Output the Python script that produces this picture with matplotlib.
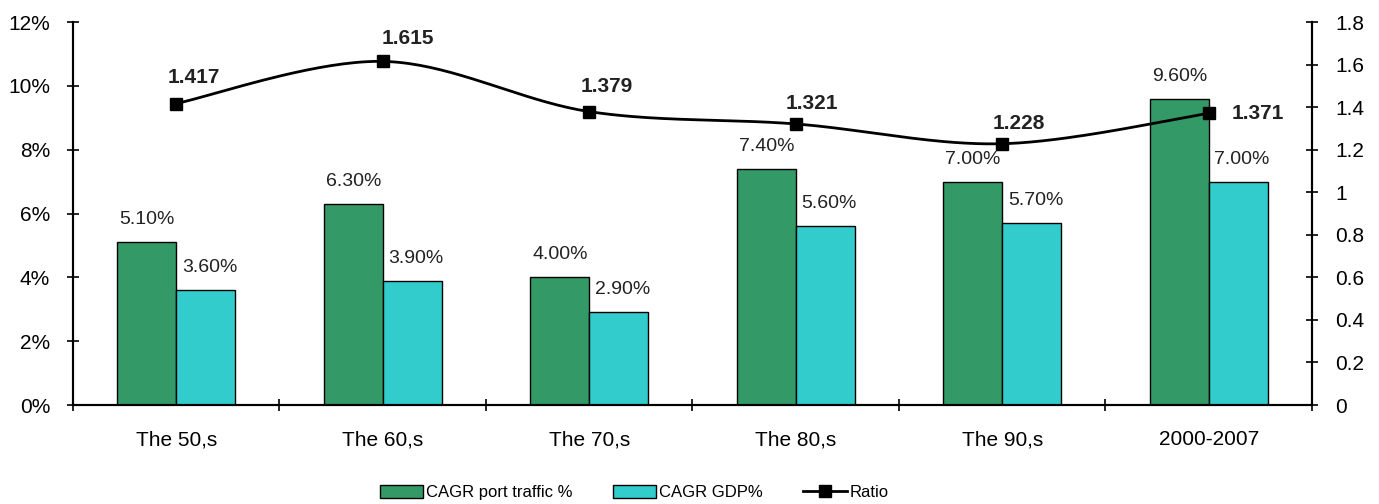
import numpy as np
import matplotlib
matplotlib.use("Agg")
import matplotlib.pyplot as plt
from matplotlib.lines import Line2D
from matplotlib.patches import Patch

plt.rcParams['font.family'] = ['Liberation Sans', 'DejaVu Sans']

categories = ["The 50,s", "The 60,s", "The 70,s", "The 80,s", "The 90,s", "2000-2007"]
port_traffic = [5.10, 6.30, 4.00, 7.40, 7.00, 9.60]
gdp = [3.60, 3.90, 2.90, 5.60, 5.70, 7.00]
ratio = [1.417, 1.615, 1.379, 1.321, 1.228, 1.371]
ratio_label_offsets = [(18, 26), (25, 23), (18, 25), (16, 20), (17, 20), (49, 0)]

GREEN = "#339966"
CYAN = "#33CCCC"

def smooth(xs, ys, n=40):
    # Excel-like smoothed line (Bezier with 1/6 tangents)
    xs = np.asarray(xs, float); ys = np.asarray(ys, float)
    px = np.concatenate([[xs[0]], xs, [xs[-1]]])
    py = np.concatenate([[ys[0]], ys, [ys[-1]]])
    outx, outy = [], []
    t = np.linspace(0, 1, n)
    for i in range(1, len(px) - 2):
        p0 = np.array([px[i], py[i]]); p3 = np.array([px[i + 1], py[i + 1]])
        c1 = p0 + (np.array([px[i + 1], py[i + 1]]) - np.array([px[i - 1], py[i - 1]])) / 6
        c2 = p3 - (np.array([px[i + 2], py[i + 2]]) - np.array([px[i], py[i]])) / 6
        b = ((1 - t) ** 3)[:, None] * p0 + (3 * (1 - t) ** 2 * t)[:, None] * c1 \
            + (3 * (1 - t) * t ** 2)[:, None] * c2 + (t ** 3)[:, None] * p3
        outx.extend(b[:, 0]); outy.extend(b[:, 1])
    return np.array(outx), np.array(outy)

fig = plt.figure(figsize=(13.79, 5.04), dpi=100)
ax = fig.add_axes([0.0529, 0.1964, 0.9514 - 0.0529, 0.9563 - 0.1964])
ax2 = ax.twinx()

x = np.arange(len(categories))
w = 0.285
ax.bar(x - w / 2, port_traffic, w, color=GREEN, edgecolor="black", linewidth=1.0, zorder=2)
ax.bar(x + w / 2, gdp, w, color=CYAN, edgecolor="black", linewidth=1.0, zorder=2)

TXT = "#222222"
for xi, v in zip(x, port_traffic):
    ax.annotate(f"{v:.2f}%", (xi - w / 2, v), xytext=(0, 14), textcoords="offset pixels",
                ha="center", va="bottom", fontsize=14, color=TXT)
for xi, v in zip(x, gdp):
    ax.annotate(f"{v:.2f}%", (xi + w / 2, v), xytext=(4, 14), textcoords="offset pixels",
                ha="center", va="bottom", fontsize=14, color=TXT)

ax.set_xlim(-0.5, len(categories) - 0.5)
ax.set_ylim(0, 12)
ax.set_yticks(np.arange(0, 13, 2))
ax.set_yticklabels([f"{v}%" for v in range(0, 13, 2)])
ax.set_xticks(x)
ax.set_xticklabels(categories)
ax.set_xticks(np.arange(-0.5, len(categories), 1), minor=True)
ax.tick_params(axis="x", which="major", length=0, pad=18, labelsize=15)
ax.tick_params(axis="x", which="minor", direction="inout", length=8, width=1.2)
ax.tick_params(axis="y", direction="inout", length=9, width=1.2, labelsize=15, pad=12)

ax2.set_ylim(0, 1.8)
ax2.set_yticks(np.arange(0, 1.81, 0.2))
ax2.set_yticklabels(["0", "0.2", "0.4", "0.6", "0.8", "1", "1.2", "1.4", "1.6", "1.8"])
ax2.tick_params(axis="y", direction="inout", length=9, width=1.2, labelsize=15, pad=12)

sx, sy = smooth(x, ratio)
ax2.plot(sx, sy, color="black", linewidth=2, zorder=3)
ax2.plot(x, ratio, linestyle="none", marker="s", markersize=8, color="black", zorder=4)
for xi, v, (dx, dy) in zip(x, ratio, ratio_label_offsets):
    ax2.annotate(f"{v:.3f}", (xi, v), xytext=(dx, dy), textcoords="offset pixels",
                 ha="center", va="center", fontsize=15, fontweight="bold", color=TXT)

for a in (ax, ax2):
    a.spines["top"].set_visible(False)
    for s in ("left", "right", "bottom"):
        a.spines[s].set_linewidth(1.5)

handles = [Patch(facecolor=GREEN, edgecolor="black", label="CAGR port traffic %"),
           Patch(facecolor=CYAN, edgecolor="black", label="CAGR GDP%"),
           Line2D([0], [0], color="black", linewidth=2, marker="s", markersize=8, label="Ratio")]
fig.legend(handles=handles, loc="center", bbox_to_anchor=(0.46, 0.022), ncol=3, frameon=False,
           fontsize=12, handlelength=2.6, handleheight=0.8, columnspacing=2.4, handletextpad=0.2)

fig.savefig("out.png", dpi=100)
